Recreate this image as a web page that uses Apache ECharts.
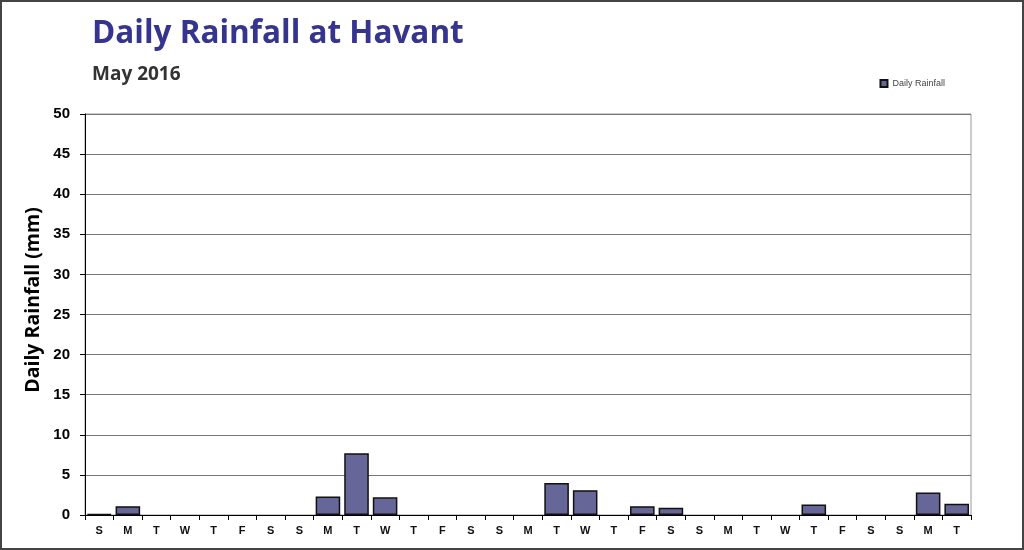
<!DOCTYPE html>
<html><head><meta charset="utf-8">
<script src="https://cdn.jsdelivr.net/npm/echarts@6/dist/echarts.min.js"></script>
<style>html,body{margin:0;padding:0;background:#fff}#c{width:1024px;height:550px;box-sizing:border-box;border:2px solid #444}</style>
</head><body><div id="c"></div>
<script>
var days = ['S','M','T','W','T','F','S','S','M','T','W','T','F','S','S','M','T','W','T','F','S','S','M','T','W','T','F','S','S','M','T'];
var rainfall = [0.1,1.1,0,0,0,0,0,0,2.3,7.7,2.2,0,0,0,0,0,4.0,3.1,0,1.1,0.9,0,0,0,0,1.3,0,0,0,2.8,1.4];
var yTicks = [0,5,10,15,20,25,30,35,40,45,50];
var chart = echarts.init(document.getElementById('c'), null, {renderer:'canvas'});
chart.setOption({
  animation:false,
  title:[{text:'Daily Rainfall at Havant',left:85,top:11,textStyle:{fontFamily:'Open Sans',fontWeight:'bold',fontSize:31.5,color:'#35358f'}},
         {text:'May 2016',left:85,top:58,textStyle:{fontFamily:'Open Sans',fontWeight:'bold',fontSize:19,color:'#333'}}],
  legend:{data:['Daily Rainfall'],right:72,top:72,itemWidth:7,itemHeight:7,icon:'rect',itemGap:5,
    textStyle:{fontFamily:'Liberation Sans',fontSize:9,color:'#444'}},
  grid:{left:83,right:51,top:112,bottom:33,show:true,borderColor:'#999',borderWidth:1},
  graphic:[{type:'text',x:31,y:298,rotation:Math.PI/2,
    style:{text:'Daily Rainfall (mm)',font:'bold 19.5px "Open Sans"',fill:'#000',textAlign:'center',textVerticalAlign:'middle'}}],
  xAxis:{type:'category',data:days,
    axisLine:{lineStyle:{color:'#000'}},
    axisTick:{show:true,length:5,interval:0,lineStyle:{color:'#000'}},
    axisLabel:{interval:0,fontFamily:'Liberation Sans',fontWeight:'bold',fontSize:11,color:'#111',margin:10}},
  yAxis:{type:'value',min:yTicks[0],max:yTicks[yTicks.length-1],interval:5,
    axisLine:{show:true,lineStyle:{color:'#000'}},
    axisTick:{show:true,length:5,inside:false,lineStyle:{color:'#000'}},
    axisLabel:{fontFamily:'Liberation Sans',fontWeight:'bold',fontSize:15,color:'#000',margin:15},
    splitLine:{lineStyle:{color:'#777',width:1}}},
  series:[{name:'Daily Rainfall',type:'bar',data:rainfall.map(function(v){return v===0?'-':v;}),barCategoryGap:'14%',
    itemStyle:{color:'#666699',borderColor:'#111',borderWidth:1.5}}]
});
</script></body></html>
